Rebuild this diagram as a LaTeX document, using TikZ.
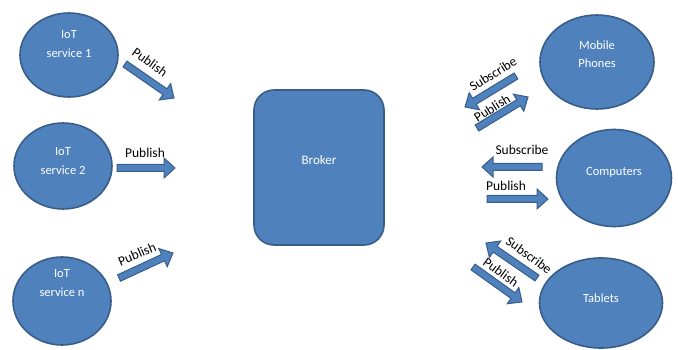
\documentclass[tikz,border=0pt]{standalone}
\usepackage{fontspec}
\setmainfont{Carlito}
\usetikzlibrary{shapes.geometric}
\definecolor{shapefill}{HTML}{4F81BD}
\definecolor{shapeline}{HTML}{385D8A}
\tikzset{
  client/.style={ellipse, draw=shapeline, line width=1.6pt, fill=shapefill, inner sep=0pt},
  clienttext/.style={text=white, font=\fontsize{12.5}{18.5}\selectfont, align=center, inner sep=0pt},
  brokerbox/.style={rectangle, rounded corners=20pt, draw=shapeline, line width=1.6pt,
    fill=shapefill},
  blockarr/.style={draw=shapeline, line width=1pt, fill=shapefill, line join=miter},
  flowlabel/.style={font=\fontsize{13.5}{16}\selectfont, inner sep=0pt},
}
% block arrow from tail (#1,#2) to tip (#3,#4), given with y growing downwards
\newcommand\blockarrow[4]{%
  \pgfmathsetmacro\arrang{atan2(-(#4-#2),#3-#1)}%
  \pgfmathsetmacro\arrlen{veclen(#3-#1,#4-#2)}%
  \begin{scope}[shift={(#1,-#2)}, rotate=\arrang]
    \draw[blockarr] (0,-3.5) -- (\arrlen-11,-3.5) -- (\arrlen-11,-10) -- (\arrlen,0)
      -- (\arrlen-11,10) -- (\arrlen-11,3.5) -- (0,3.5) -- cycle;
  \end{scope}}
\begin{document}
\begin{tikzpicture}[x=1pt, y=1pt]
  \useasboundingbox (0,0) rectangle (678,-350);

  % publishers
  \node[client, minimum width=98pt, minimum height=84pt] (s1) at (69,-55) {};
  \node[clienttext] (s1t) at ([yshift=11pt]s1.center) {IoT\\service 1};
  \node[client, minimum width=98pt, minimum height=86pt] (s2) at (63,-166) {};
  \node[clienttext] (s2t) at ([yshift=5pt]s2.center) {IoT\\service 2};
  \node[client, minimum width=98pt, minimum height=88pt] (sn) at (62,-301) {};
  \node[clienttext] (snt) at ([yshift=18pt]sn.center) {IoT\\service n};

  % broker
  \node[brokerbox, minimum width=130pt, minimum height=155pt] (broker) at (319,-167.5) {};
  \node[clienttext, font=\fontsize{13}{16}\selectfont] (brokert) at ([yshift=7pt]broker.center) {Broker};

  % subscribers
  \node[client, minimum width=114pt, minimum height=94pt] (mob) at (597,-62) {};
  \node[clienttext] (mobt) at ([yshift=8pt]mob.center) {Mobile\\Phones};
  \node[client, minimum width=115pt, minimum height=97pt] (comp) at (614,-178) {};
  \node[clienttext] (compt) at ([yshift=6pt]comp.center) {Computers};
  \node[client, minimum width=123pt, minimum height=90pt] (tab) at (601,-303) {};
  \node[clienttext] (tabt) at ([yshift=5pt]tab.center) {Tablets};

  % publish arrows on the left
  \blockarrow{125}{64}{174}{98}
  \node[flowlabel, rotate=-36] (l1) at (150,-62) {Publish};
  \blockarrow{117}{168}{175}{168}
  \node[flowlabel] (l2) at (145,-153) {Publish};
  \blockarrow{119}{278}{173}{253}
  \node[flowlabel, rotate=23] (l3) at (137,-254) {Publish};

  % mobile phones
  \blockarrow{516}{76}{465}{107}
  \node[flowlabel, rotate=32] (l4) at (493,-74) {Subscribe};
  \blockarrow{477}{128}{528}{97}
  \node[flowlabel, rotate=32] (l5) at (492,-108) {Publish};

  % computers
  \blockarrow{542}{167}{482}{167}
  \node[flowlabel] (l6) at (522,-150) {Subscribe};
  \blockarrow{487}{199}{548}{199}
  \node[flowlabel] (l7) at (506,-186) {Publish};

  % tablets
  \blockarrow{537}{278}{486}{243}
  \node[flowlabel, rotate=-36] (l8) at (529,-255) {Subscribe};
  \blockarrow{473}{267}{522}{302}
  \node[flowlabel, rotate=-36] (l9) at (501,-272) {Publish};
\end{tikzpicture}
\end{document}
